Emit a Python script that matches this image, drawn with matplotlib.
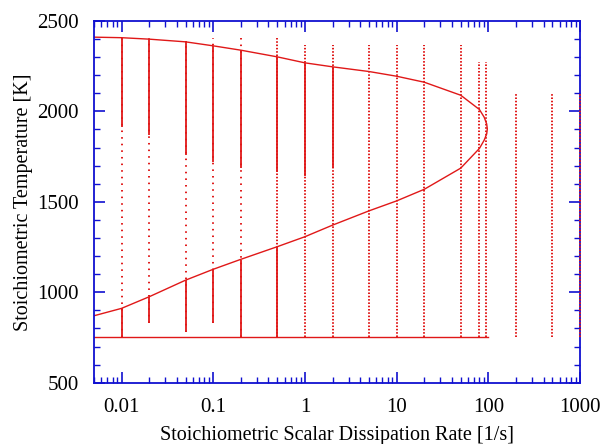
import numpy as np
import matplotlib
matplotlib.use("Agg")
import matplotlib.pyplot as plt
from matplotlib.ticker import LogLocator, MultipleLocator, FixedLocator, NullFormatter

plt.rcParams['font.family'] = ['Liberation Serif', 'DejaVu Serif']

# S-curve: burning branch, turning point, unstable middle branch
chi_s = [0.005, 0.01, 0.02, 0.05, 0.1, 0.2, 0.5, 1, 2, 5, 10, 20, 50, 80, 90, 96, 97.5,
         96, 90, 80, 50, 20, 10, 5, 2, 1, 0.5, 0.2, 0.1, 0.05, 0.02, 0.01, 0.005]
T_s = [2410, 2407, 2399, 2384, 2362, 2338, 2301, 2268, 2246, 2220, 2194, 2161, 2089, 2010, 1968, 1930, 1903,
       1875, 1840, 1795, 1686, 1569, 1505, 1450, 1371, 1307, 1252, 1182, 1127, 1067, 975, 911, 870]

# extinguished branch
chi_low = [0.005, 100]
T_low = [750, 750]

# unsteady flamelet columns
col_chi = [0.01, 0.02, 0.05, 0.1, 0.2, 0.5, 1, 2, 5, 10, 20, 50, 80, 95, 200, 500, 1000]
col_top = [2408, 2408, 2388, 2406, 2408, 2408, 2366, 2366, 2366, 2366, 2366, 2366, 2273, 2273, 2095, 2095, 2095]
col_bot = [750, 829, 782, 829, 750, 750, 750, 750, 750, 750, 750, 750, 750, 750, 750, 750, 750]
# dense parts of the columns (high, low)
dense_up = {0.01: (2408, 1914), 0.02: (2400, 1868), 0.05: (2388, 1758), 0.1: (2362, 1721),
            0.2: (2338, 1686), 0.5: (2301, 1666), 1: (2268, 1640), 2: (2246, 1686)}
dense_low = {0.01: (911, 750), 0.02: (975, 829), 0.05: (1067, 782), 0.1: (1127, 829),
             0.2: (1178, 750), 0.5: (1252, 750)}

red = '#e01818'
blue = '#1010d0'

fig = plt.figure(figsize=(6.02, 4.44), dpi=100)
ax = fig.add_axes([0.156, 0.138, 0.8075, 0.815])

ax.set_xscale('log')
ax.set_xlim(0.005, 1000)
ax.set_ylim(500, 2500)

for x, top, bot in zip(col_chi, col_top, col_bot):
    gap = 2.6 if x <= 0.2 else 0.9
    ax.vlines(x, bot, top, colors=red, lw=1.4, linestyles=[(0, (0.8, gap))],
              clip_on=False, zorder=10)
    if x in dense_up:
        ax.plot([x, x], dense_up[x], color=red, lw=1.3, solid_capstyle='butt')
    if x in dense_low:
        ax.plot([x, x], dense_low[x], color=red, lw=1.3, solid_capstyle='butt')

ax.plot(chi_s, T_s, color=red, lw=1.0)
ax.plot(chi_low, T_low, color=red, lw=1.0)

ax.set_xlim(0.005, 1000)
ax.set_ylim(500, 2500)

ax.xaxis.set_major_locator(FixedLocator([0.01, 0.1, 1, 10, 100, 1000]))
ax.set_xticklabels(['0.01', '0.1', '1', '10', '100', '1000'])
ax.xaxis.set_minor_locator(LogLocator(base=10, subs=np.arange(2, 10), numticks=20))
ax.xaxis.set_minor_formatter(NullFormatter())
ax.yaxis.set_major_locator(MultipleLocator(500))
ax.yaxis.set_minor_locator(MultipleLocator(100))

for s in ax.spines.values():
    s.set_color(blue)
    s.set_linewidth(1.3)

ax.tick_params(which='both', direction='in', top=True, right=True, colors=blue,
               labelcolor='black', labelsize=15)
ax.tick_params(which='major', length=8, width=1.2, pad=11)
ax.tick_params(which='minor', length=4.3, width=1.0)

ax.set_xlabel('Stoichiometric Scalar Dissipation Rate [1/s]', fontsize=14.5, labelpad=6.5)
ax.set_ylabel('Stoichiometric Temperature [K]', fontsize=14.5, labelpad=3)

fig.savefig('out.png', dpi=100)
